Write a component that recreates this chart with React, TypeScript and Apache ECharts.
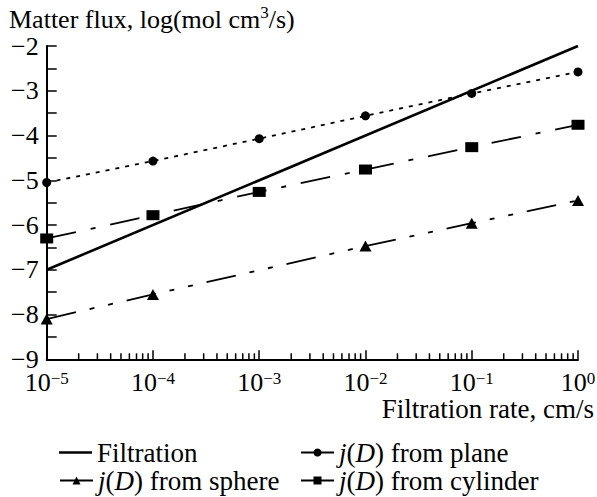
import React, { useEffect, useRef } from "react";
import * as echarts from "echarts";

// ---- data ----
const filtrationX = [1e-5, 1];
const filtrationY = [-7, -2];

const planeX = [1e-5, 1e-4, 1e-3, 1e-2, 1e-1, 1];
const planeY = [-5.05, -4.57, -4.07, -3.56, -3.06, -2.58];

const cylinderX = [1e-5, 1e-4, 1e-3, 1e-2, 1e-1, 1];
const cylinderY = [-6.3, -5.78, -5.26, -4.76, -4.26, -3.76];

const sphereX = [1e-5, 1e-4, 1e-2, 1e-1, 1];
const sphereY = [-8.1, -7.55, -6.47, -5.96, -5.45];

const decadeStarts = [1e-5, 1e-4, 1e-3, 1e-2, 1e-1];
const minorMultipliers = [2, 3, 4, 5, 6, 7, 8, 9];

const FONT = "'Liberation Serif', 'Times New Roman', serif";

const zip = (xs: number[], ys: number[]) => xs.map((x, i) => [x, ys[i]]);

const legendNames: Record<string, string> = {
  Filtration: "Filtration",
  plane: "{i|j}({i|D}) from plane",
  sphere: "{i|j}({i|D}) from sphere",
  cylinder: "{i|j}({i|D}) from cylinder",
};

export default function App() {
  const ref = useRef<HTMLDivElement>(null);
  useEffect(() => {
    if (!ref.current) return;
    const chart = echarts.init(ref.current, null, { renderer: "svg" });
    const black = "#000";
    const minorTicks: number[][] = [];
    decadeStarts.forEach((d) =>
      minorMultipliers.forEach((m) => minorTicks.push([m * d, -9]))
    );
    const legendText = {
      fontFamily: FONT,
      fontSize: 27,
      color: black,
      lineHeight: 26,
      rich: {
        i: { fontFamily: FONT, fontSize: 27, fontStyle: "italic", color: black, lineHeight: 26 },
      },
    };
    const mkLegend = (name: string, left: number, top: number, extra: any = {}) => ({
      left,
      top,
      padding: 0,
      itemWidth: 33,
      itemHeight: 10,
      data: [name],
      formatter: (n: string) => legendNames[n],
      textStyle: legendText,
      lineStyle: { type: "solid", width: 2 },
      ...extra,
    });
    chart.setOption({
      animation: false,
      backgroundColor: "#fff",
      textStyle: { fontFamily: FONT, color: black },
      title: [
        {
          text: "{n|Matter flux, log(mol cm}{s|3}{n|/s)}",
          left: 9,
          top: 4,
          padding: 0,
          textStyle: {
            rich: {
              n: { fontFamily: FONT, fontSize: 26, fontWeight: "normal", color: black, lineHeight: 30 },
              s: { fontFamily: FONT, fontSize: 17, fontWeight: "normal", color: black, lineHeight: 30, verticalAlign: "top" },
            },
          },
        },
        {
          text: "Filtration rate, cm/s",
          right: 3,
          top: 395,
          padding: 0,
          textStyle: { fontFamily: FONT, fontSize: 27, fontWeight: "normal", color: black, lineHeight: 28 },
        },
      ],
      grid: {
        left: 46.7,
        right: 19,
        top: 46,
        bottom: 137.7,
        outerBoundsMode: "none",
      },
      xAxis: {
        type: "log",
        logBase: 10,
        min: 1e-5,
        max: 1,
        axisLine: { lineStyle: { color: black, width: 2 } },
        axisTick: { inside: true, length: 9, lineStyle: { color: black, width: 1.5 } },
        splitLine: { show: false },
        axisLabel: {
          margin: 11,
          formatter: (v: number) => {
            const e = Math.round(Math.log10(v));
            return "{b|10}{s|" + (e < 0 ? "\u2212" + Math.abs(e) : String(e)) + "}";
          },
          rich: {
            b: { fontFamily: FONT, fontSize: 26, color: black, lineHeight: 24 },
            s: { fontFamily: FONT, fontSize: 17, color: black, lineHeight: 24, verticalAlign: "top" },
          },
        },
      },
      yAxis: {
        type: "value",
        min: -9,
        max: -2,
        interval: 0.5,
        axisLine: { show: true, lineStyle: { color: black, width: 2 } },
        axisTick: { show: true, inside: true, length: 10, lineStyle: { color: black, width: 1.5 } },
        splitLine: { show: false },
        axisLabel: {
          margin: 8,
          fontFamily: FONT,
          fontSize: 26,
          lineHeight: 20,
          color: black,
          formatter: (v: number) =>
            Number.isInteger(v) ? (v < 0 ? "\u2212" + Math.abs(v) : String(v)) : "",
        },
      },
      legend: [
        mkLegend("Filtration", 59, 439, {
          data: [{ name: "Filtration", icon: "rect" }],
          itemHeight: 2.6,
        }),
        mkLegend("sphere", 59, 467),
        mkLegend("plane", 300, 439),
        mkLegend("cylinder", 300, 467),
      ],
      series: [
        {
          name: "Filtration",
          type: "line",
          data: zip(filtrationX, filtrationY),
          symbol: "none",
          lineStyle: { color: black, width: 2.6, type: "solid" },
          itemStyle: { color: black },
          z: 5,
        },
        {
          name: "plane",
          type: "line",
          data: zip(planeX, planeY),
          symbol: "circle",
          symbolSize: 9,
          lineStyle: { color: black, width: 1.8, type: [4, 6] },
          itemStyle: { color: black },
        },
        {
          name: "sphere",
          type: "line",
          data: zip(sphereX, sphereY),
          symbol: "triangle",
          symbolSize: [12, 11],
          lineStyle: { color: black, width: 1.8, type: [30, 14, 5, 14, 5, 14] },
          itemStyle: { color: black },
        },
        {
          name: "cylinder",
          type: "line",
          data: zip(cylinderX, cylinderY),
          symbol: "rect",
          symbolSize: [13, 10],
          lineStyle: { color: black, width: 1.8, type: [30, 15, 5, 15] },
          itemStyle: { color: black },
        },
        {
          name: "minorTicks",
          type: "custom",
          silent: true,
          clip: false,
          data: minorTicks,
          encode: { x: 0, y: 1 },
          renderItem: (params: any, api: any) => {
            const p = api.coord([api.value(0), api.value(1)]);
            return {
              type: "line",
              shape: { x1: p[0], y1: p[1], x2: p[0], y2: p[1] - 6 },
              style: { stroke: black, lineWidth: 1.5 },
            };
          },
        },
      ],
    });
    return () => chart.dispose();
  }, []);
  return (
    <div
      ref={ref}
      style={{ position: "fixed", left: 0, top: 0, width: 597, height: 497 }}
    />
  );
}
